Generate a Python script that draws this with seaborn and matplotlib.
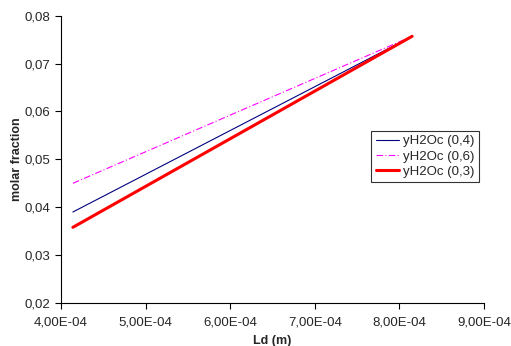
import matplotlib
matplotlib.use("Agg")
import matplotlib.pyplot as plt
import seaborn as sns
import pandas as pd
from matplotlib.ticker import FuncFormatter, FixedLocator

sns.set_style("ticks")
plt.rcParams['font.family'] = ['Liberation Sans', 'DejaVu Sans']

ld = [4.14e-04, 8.15e-04]
y04 = [0.0390, 0.0757]
y06 = [0.0450, 0.0757]
y03 = [0.0358, 0.0757]
series = ["yH2Oc (0,4)", "yH2Oc (0,6)", "yH2Oc (0,3)"]

rows = []
for name, vals in zip(series, [y04, y06, y03]):
    for x, v in zip(ld, vals):
        rows.append({"Ld": x, "y": v, "series": name})
df = pd.DataFrame(rows)

fig = plt.figure(figsize=(5.11, 3.46), dpi=100)
ax = fig.add_axes([0.1194, 0.1243, 0.8278, 0.8303])

palette = {series[0]: "#000080", series[1]: "#FF00FF", series[2]: "#FF0000"}
sns.lineplot(data=df, x="Ld", y="y", hue="series", palette=palette, ax=ax,
             legend=False, sort=False)
lines = ax.get_lines()
lines[0].set_linewidth(0.8)
lines[1].set_linewidth(0.8)
lines[1].set_dashes([6, 2, 1, 2])
lines[2].set_linewidth(2.2)

ax.set_xlim(4e-4, 9e-4)
ax.set_ylim(0.02, 0.08)
ax.xaxis.set_major_locator(FixedLocator([4e-4, 5e-4, 6e-4, 7e-4, 8e-4, 9e-4]))
ax.yaxis.set_major_locator(FixedLocator([0.02, 0.03, 0.04, 0.05, 0.06, 0.07, 0.08]))
ax.xaxis.set_major_formatter(FuncFormatter(lambda v, p: ("%.2E" % v).replace(".", ",")))
ax.yaxis.set_major_formatter(FuncFormatter(lambda v, p: ("%.2f" % v).replace(".", ",")))
ax.tick_params(axis='both', labelsize=9.5, length=4, width=0.8, color='black', direction='out')
ax.tick_params(axis='x', pad=5.5)
for s in ["top", "right"]:
    ax.spines[s].set_visible(False)
for s in ["left", "bottom"]:
    ax.spines[s].set_color("black")
    ax.spines[s].set_linewidth(0.8)

ax.set_xlabel("Ld (m)", fontsize=9, fontweight="bold", labelpad=5)
ax.set_ylabel("molar fraction", fontsize=9, fontweight="bold", labelpad=1.5)

leg = ax.legend(lines, series, loc="upper left", bbox_to_anchor=(0.733, 0.60),
                fontsize=9.5, frameon=True, fancybox=False, handlelength=1.75,
                borderpad=0.35, labelspacing=0.22, handletextpad=0.3, borderaxespad=0)
leg.get_frame().set_edgecolor("black")
leg.get_frame().set_linewidth(0.8)

fig.savefig("out.png", dpi=100)
